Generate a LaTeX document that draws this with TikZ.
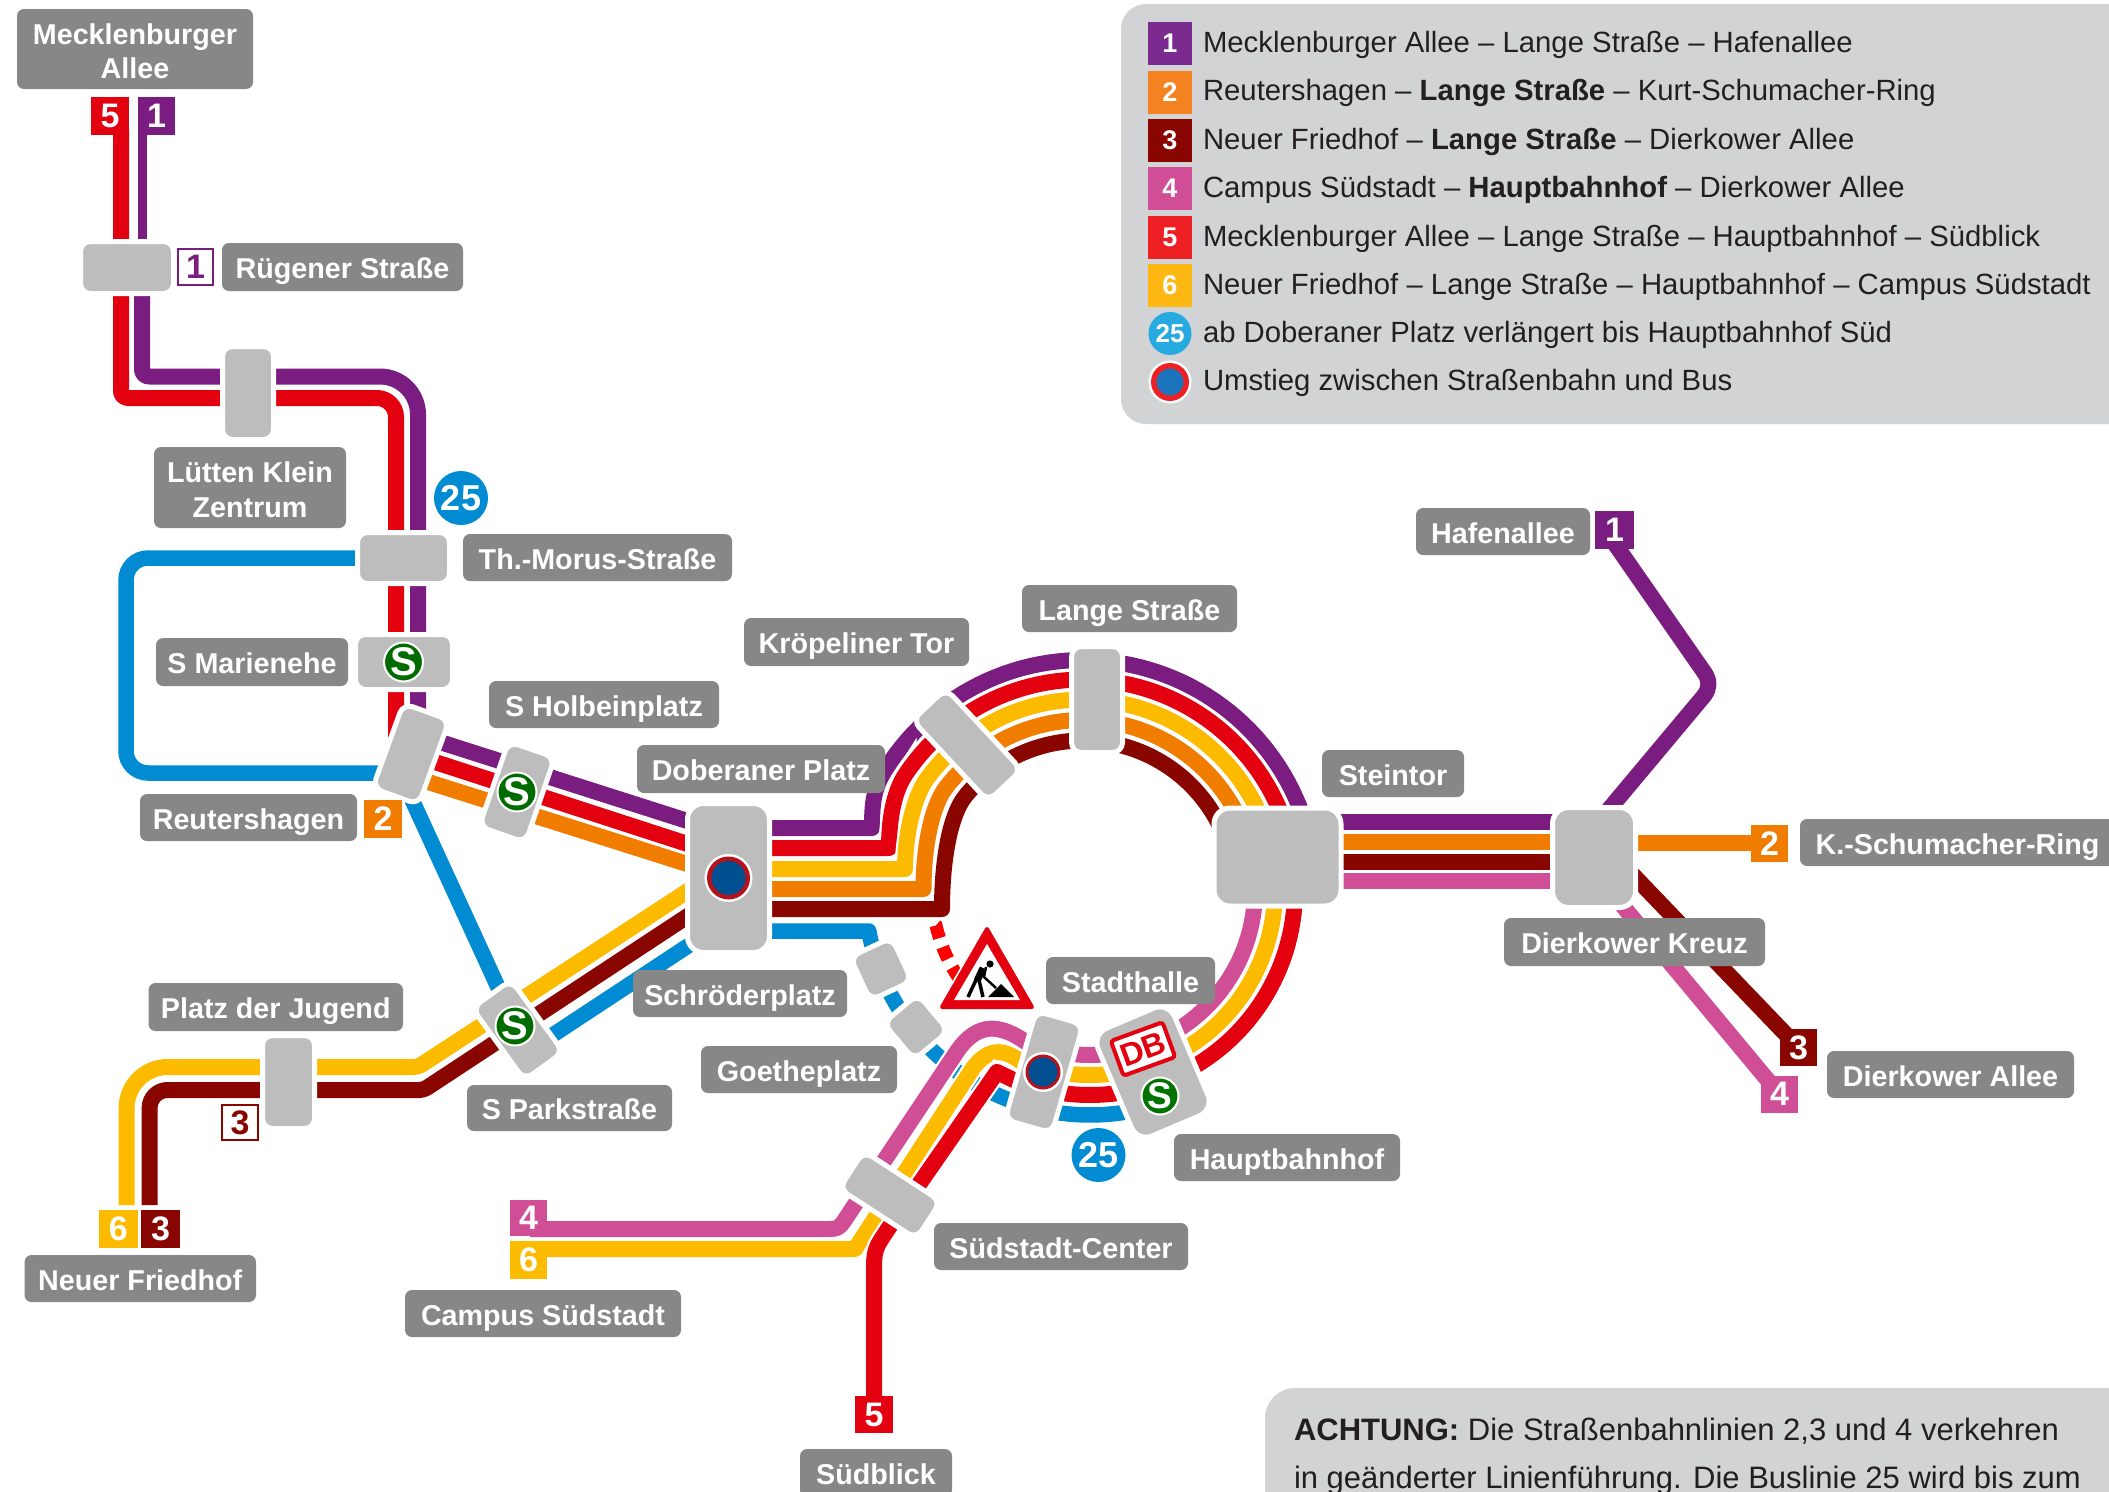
\documentclass[tikz,border=0pt]{standalone}
\usepackage{fontspec}
\setmainfont{Liberation Sans}
\pgfdeclarelayer{tracks}
\pgfsetlayers{tracks,main}
\definecolor{cPur}{HTML}{7A1C80}
\definecolor{cRed}{HTML}{E3000F}
\definecolor{cYel}{HTML}{FDBB00}
\definecolor{cOra}{HTML}{F07D00}
\definecolor{cDrk}{HTML}{880500}
\definecolor{cPnk}{HTML}{D04E96}
\definecolor{cBlu}{HTML}{008BD2}
\definecolor{cLab}{HTML}{878787}
\definecolor{cSta}{HTML}{BDBDBD}
\definecolor{cPan}{HTML}{D1D3D4}
\definecolor{cGrn}{HTML}{006C00}
\definecolor{cTxt}{HTML}{231F20}
\definecolor{kPur}{HTML}{7B2A8F}
\definecolor{kOra}{HTML}{F58220}
\definecolor{kRed}{HTML}{EE2024}
\definecolor{kYel}{HTML}{FDB813}
\definecolor{kCya}{HTML}{27AAE1}
\definecolor{kBlu}{HTML}{1C75BC}
\definecolor{dRed}{HTML}{B5121B}
\definecolor{dBlu}{HTML}{004F91}
\newcommand{\mapbox}[7]{%
  \pgfmathsetmacro\bcx{(#3+#5)/2}\pgfmathsetmacro\bcy{(#4+#6)/2}%
  \pgfmathsetmacro\bww{#5-#3}\pgfmathsetmacro\bhh{#6-#4}%
  \node[#1,minimum width=\bww pt,minimum height=\bhh pt] (#2) at (\bcx,\bcy) {#7};}
\newcommand{\stn}[7][]{%
  \pgfmathsetmacro\bww{#5+5}\pgfmathsetmacro\bhh{#6+5}%
  \node[stat,#1,rotate=#7,minimum width=\bww pt,minimum height=\bhh pt] (#2) at (#3,#4) {};}
\newcommand{\busicon}[5]{%
  \node[circle,fill=white,inner sep=0pt,minimum size=#4*2pt] (#1w) at (#2,#3) {};
  \node[circle,fill=busred,inner sep=0pt,minimum size=#4*2pt-5pt] (#1r) at (#1w.center) {};
  \node[circle,fill=busblue,inner sep=0pt,minimum size=#5*2pt] (#1b) at (#1w.center) {};}
\tikzset{
  x=1pt,y=-1pt,
  ringU/.style n args={3}{insert path={-- plot[domain=#2:#3,samples=60] ({1083+#1*cos(\x)},{893+#1*sin(\x)})}},
  ringL/.style n args={3}{insert path={-- plot[domain=#2:#3,samples=60] ({1090+#1*cos(\x)},{890+#1*sin(\x)})}},
  trk/.style={line width=16pt,line join=round,preaction={draw=white,line width=20.5pt}},
  bus/.style={line width=15.5pt,line join=round,draw=cBlu},
  lab/.style={fill=cLab,rounded corners=7pt,inner sep=0pt,outer sep=0pt,text=white,
    font=\fontsize{28.7}{34.5}\selectfont\bfseries,text height=28.5pt,text depth=5pt},
  lab2/.style={fill=cLab,rounded corners=7pt,inner sep=0pt,outer sep=0pt,text=white,
    font=\fontsize{28.7}{34.5}\selectfont\bfseries,align=center},
  stat/.style={fill=cSta,draw=white,line width=5pt,rounded corners=10pt,inner sep=0pt,outer sep=0pt},
  bigstat/.style={rounded corners=16pt},
  badge/.style={inner sep=0pt,outer sep=0pt,text=white,font=\fontsize{34}{34}\selectfont\bfseries},
  obadge/.style={inner sep=0pt,outer sep=0pt,fill=white,line width=2pt,font=\fontsize{34}{34}\selectfont\bfseries},
  slogo/.style={circle,fill=cGrn,draw=white,line width=2pt,inner sep=0pt,outer sep=0pt,minimum size=39pt,text=white,
    font=\fontsize{40}{40}\selectfont\bfseries},
  busnum/.style={circle,fill=cBlu,inner sep=0pt,outer sep=0pt,minimum size=54pt,text=white,
    font=\fontsize{36}{36}\selectfont\bfseries},
  leg/.style={anchor=base west,inner sep=0pt,outer sep=0pt,text=cTxt,font=\fontsize{29.3}{34}\selectfont},
  lbadge/.style={inner sep=0pt,outer sep=0pt,text=white,font=\fontsize{27}{27}\selectfont\bfseries},
  notetxt/.style={anchor=base west,inner sep=0pt,outer sep=0pt,text=cTxt,font=\fontsize{31}{34}\selectfont},
}
\colorlet{busred}{black}
\colorlet{busblue}{black}
\begin{document}
\begin{tikzpicture}
\useasboundingbox (0,0) rectangle (2109,1491);
\clip (0,0) rectangle (2109,1491);

% panels
\fill[cPan,rounded corners=25pt] (1121,4) rectangle (2160,424);
\fill[cPan,rounded corners=30pt] (1265,1388) rectangle (2160,1540);

% legend
\mapbox{lbadge,fill=kPur}{k1}{1148}{22}{1191.5}{65}{1}
\mapbox{lbadge,fill=kOra}{k2}{1148}{71}{1191.5}{114}{2}
\mapbox{lbadge,fill=cDrk}{k3}{1148}{119}{1191.5}{162}{3}
\mapbox{lbadge,fill=cPnk}{k4}{1148}{167}{1191.5}{210}{4}
\mapbox{lbadge,fill=kRed}{k5}{1148}{216}{1191.5}{259}{5}
\mapbox{lbadge,fill=kYel}{k6}{1148}{264}{1191.5}{307}{6}
\node[circle,fill=kCya,inner sep=0pt,minimum size=43pt,text=white,font=\fontsize{26}{26}\selectfont\bfseries] (k25) at (1170,333.5) {25};
\colorlet{busred}{kRed}\colorlet{busblue}{kBlu}
\busicon{kbus}{1170}{382}{21.5}{13.5}
\node[leg] (t1) at (1203,52) {Mecklenburger Allee -- Lange Straße -- Hafenallee};
\node[leg] (t2) at (1203,100.5) {Reutershagen -- \textbf{Lange Straße} -- Kurt-Schumacher-Ring};
\node[leg] (t3) at (1203,149) {Neuer Friedhof -- \textbf{Lange Straße} -- Dierkower Allee};
\node[leg] (t4) at (1203,197) {Campus Südstadt -- \textbf{Hauptbahnhof} -- Dierkower Allee};
\node[leg] (t5) at (1203,246) {Mecklenburger Allee -- Lange Straße -- Hauptbahnhof -- Südblick};
\node[leg] (t6) at (1203,294) {Neuer Friedhof -- Lange Straße -- Hauptbahnhof -- Campus Südstadt};
\node[leg] (t7) at (1203,342) {ab Doberaner Platz verlängert bis Hauptbahnhof Süd};
\node[leg] (t8) at (1203,390) {Umstieg zwischen Straßenbahn und Bus};

% note
\node[notetxt] (n1) at (1294,1440) {\textbf{ACHTUNG:} Die Straßenbahnlinien 2,3 und 4 verkehren};
\node[notetxt] (n2) at (1294,1488) {in geänderter Linienführung. Die Buslinie 25 wird bis zum};

% stations
\stn{rueg}{127}{267.5}{88}{47}{0}
\stn{luet}{248}{393}{46}{88}{0}
\stn{morus}{403.5}{558}{87}{46}{0}
\stn{mari}{404}{662}{92}{50}{0}
\stn{reut}{411}{754}{44}{85}{-20}
\stn{holb}{517}{792}{44}{85}{-19}
\stn[bigstat]{dob}{728.5}{878}{77}{144}{0}
\stn{krop}{967}{745}{41}{106}{43}
\stn{lange}{1097}{699.5}{46}{101}{0}
\stn[bigstat]{stein}{1277.5}{857}{122}{93}{0}
\stn[bigstat]{dier}{1594}{857.5}{78}{95}{0}
\stn{park}{517.7}{1030}{43}{84}{36}
\stn{jug}{288.5}{1082}{47}{88}{0}
\stn{sued}{890}{1195}{87}{40}{-33}
\stn{stadt}{1044}{1072}{44}{108}{-16}
\stn[bigstat]{hbf}{1153}{1072}{78}{112}{23}
\stn{goeA}{881}{969}{41}{43}{25}
\stn{goeB}{916}{1027}{40}{43}{40}

% station symbols
\node[slogo] (sMari) at (403.5,662) {S};
\node[slogo] (sHolb) at (517,792) {S};
\node[slogo] (sPark) at (515,1026) {S};
\node[slogo,fill=green!45!black,minimum size=37pt,font=\fontsize{37}{37}\selectfont\bfseries] (sHbf) at (1160,1096) {S};
\colorlet{busred}{dRed}\colorlet{busblue}{dBlu}
\busicon{bDob}{728.5}{878}{24}{17}
\busicon{bStadt}{1043}{1072}{20}{14.5}
\node[rotate=20,fill=white,draw=cRed,line width=4pt,rounded corners=3pt,inner sep=0pt,minimum width=55pt,minimum height=37pt,text=cRed,font=\fontsize{32}{32}\selectfont\bfseries] (db) at (1143,1049) {DB};

% labels
\mapbox{lab2}{lMeck}{17}{9}{253}{89}{\rule{0pt}{25pt}Mecklenburger\\Allee}
\mapbox{lab}{lRueg}{222}{243}{463}{291}{Rügener Straße}
\mapbox{lab2}{lLuet}{154}{447}{346}{528}{\rule{0pt}{25pt}Lütten Klein\\Zentrum}
\mapbox{lab}{lMorus}{463}{534}{732}{581}{Th.-Morus-Straße}
\mapbox{lab}{lMari}{156}{638}{348}{686}{S Marienehe}
\mapbox{lab}{lHolb}{489}{681}{719}{728}{S Holbeinplatz}
\mapbox{lab}{lReut}{140}{794}{357}{841}{Reutershagen}
\mapbox{lab}{lDob}{637}{745}{885}{793}{Doberaner Platz}
\mapbox{lab}{lKrop}{744}{618}{969}{666}{Kröpeliner Tor}
\mapbox{lab}{lLange}{1022}{585}{1237}{632}{Lange Straße}
\mapbox{lab}{lStein}{1322}{750}{1464}{797}{Steintor}
\mapbox{lab}{lHafen}{1416}{508}{1590}{555}{Hafenallee}
\mapbox{lab}{lKsr}{1800}{819}{2115}{866}{K.-Schumacher-Ring}
\mapbox{lab}{lDier}{1504}{918}{1765}{966}{Dierkower Kreuz}
\mapbox{lab}{lDierA}{1827}{1051}{2074}{1098}{Dierkower Allee}
\mapbox{lab}{lSchr}{633}{970}{847}{1017}{Schröderplatz}
\mapbox{lab}{lGoe}{701}{1046}{897}{1093}{Goetheplatz}
\mapbox{lab}{lStadt}{1046}{957}{1215}{1004}{Stadthalle}
\mapbox{lab}{lHbf}{1174}{1134}{1400}{1181}{Hauptbahnhof}
\mapbox{lab}{lSued}{934}{1223}{1188}{1270}{Südstadt-Center}
\mapbox{lab}{lBlick}{800}{1449}{952}{1497}{Südblick}
\mapbox{lab}{lCamp}{405}{1290}{681}{1337}{Campus Südstadt}
\mapbox{lab}{lNeu}{24.5}{1255}{256}{1302}{Neuer Friedhof}
\mapbox{lab}{lJug}{148.5}{983}{403}{1031}{Platz der Jugend}
\mapbox{lab}{lPark}{467}{1085}{672}{1131}{S Parkstraße}

% badges
\mapbox{badge,fill=cRed}{m5}{91}{97}{129}{135}{5}
\mapbox{badge,fill=cPur}{m1}{138}{97}{175}{135}{1}
\mapbox{obadge,draw=cPur,text=cPur}{r1}{178}{249}{213}{285}{1}
\mapbox{badge,fill=cOra}{re2}{364}{800}{402}{838}{2}
\mapbox{obadge,draw=cDrk,text=cDrk}{j3}{222}{1105}{258}{1140}{3}
\mapbox{badge,fill=cYel}{n6}{98.5}{1210}{138}{1247.5}{6}
\mapbox{badge,fill=cDrk}{n3}{141}{1210}{180}{1247.5}{3}
\mapbox{badge,fill=cPnk}{c4}{510}{1199.5}{547}{1236}{4}
\mapbox{badge,fill=cYel}{c6}{510}{1241}{547}{1279}{6}
\mapbox{badge,fill=cRed}{s5}{855}{1396}{893}{1433}{5}
\mapbox{badge,fill=cPur}{h1}{1595}{511}{1634}{548.5}{1}
\mapbox{badge,fill=cOra}{k2b}{1751}{824.5}{1788}{862}{2}
\mapbox{badge,fill=cDrk}{d3}{1780}{1029}{1817}{1066}{3}
\mapbox{badge,fill=cPnk}{d4}{1761}{1075.5}{1798}{1113}{4}
\node[busnum] (b25a) at (461,498) {25};
\node[busnum] (b25b) at (1098.5,1155) {25};

% construction sign
\path[fill=white,draw=white,line width=3pt,line join=round] (987,925) -- (938,1009) -- (1036,1009) -- cycle;
\path[fill=cRed,draw=cRed,line width=4pt,line join=round] (987,929) -- (942,1007) -- (1032,1007) -- cycle;
\fill[white] (987,944) -- (954,1000) -- (1020,1000) -- cycle;
\fill[black] (990,964) circle[radius=3.6];
\draw[black,line width=7pt] (983,968) -- (977,981);
\draw[black,line width=3.5pt,line join=round] (976,980) -- (968,997);
\draw[black,line width=3.5pt,line join=round] (979,980) -- (983,997);
\draw[black,line width=2.5pt,line join=round] (986,967) -- (984,977) -- (996,988);
\fill[black] (988,997) -- (1001,984) -- (1014,997) -- cycle;

\begin{pgfonlayer}{tracks}
\fill[white] (0,0) rectangle (2109,1491);
% bus line 25
\draw[bus] (morus.center) [rounded corners=22pt] -| (126,773) -- (395,773);
\coordinate (blueR) at (396,765);
\draw[bus] (blueR) -- (park.center);
\draw[bus] (530,1050) -- (700,938);
\draw[bus] (772,931) -- (868,931) [ringL={225}{169.5}{80}];
% diverted line 5 dashes
\draw[red,line width=13pt,dash pattern=on 13pt off 9.6pt] (936,925.5) [ringL={158}{167}{145}];

% line 5 and 1, north
\draw[trk,cRed] (121,130) [rounded corners=7pt] -- (121,398) [rounded corners=19pt] -- (396,398) -- (396,745);
\draw[cPur,line width=9pt] (142.5,130) -- (142.5,250);
\draw[trk,cPur] (142,250) [rounded corners=7pt] -- (142,376.5) [rounded corners=38pt] -- (418,376.5) -- (418,745);
% bundle to Doberaner
\draw[trk,cPur] (440,742) -- (700,825);
\draw[trk,cRed] (435,762) -- (700,848);
\draw[trk,cOra] (425,781) -- (700,868);
% Neuer Friedhof
\draw[trk,cYel] (126.6,1205) [rounded corners=41pt] -- (126.6,1067) [rounded corners=4pt] -- (418,1067) -- (700,883);
\draw[trk,cDrk] (149.6,1205) [rounded corners=18pt] -- (149.6,1090) [rounded corners=4pt] -- (423.5,1090) -- (700,908);
% ring, upper
\draw[trk,cPur] (740,828) -- (872,828) .. controls (872,805) and (873,789) .. (885.4,769.5) [ringU={233}{212}{345}];
\draw[trk,cRed] (740,848) -- (889,848) .. controls (889,825) and (892,794) .. (906,773.6) [ringU={213.5}{214}{345}];
\draw[trk,cYel] (740,869) -- (905,869) .. controls (905,840) and (912,800) .. (926.5,779.3) [ringU={193.5}{216}{345}];
\draw[trk,cOra] (740,889) -- (923.5,889) .. controls (923.5,850) and (931,806) .. (946.7,786.5) [ringU={173}{218}{345}];
\draw[trk,cDrk] (740,909) -- (942,909) .. controls (942,860) and (950,814) .. (966.2,795) [ringU={152.5}{220}{345}];
% ring, lower and Suedstadt
\draw[trk,cPnk] (1255,890) [ringL={165}{0}{113}] .. controls (1000,1024) and (978,1022) .. (958,1050) -- (850,1212) .. controls (839,1229) .. (826,1229) -- (530,1229);
\draw[trk,cYel] (1275,890) [ringL={185}{0}{112}] .. controls (1005,1050) and (990,1046) .. (973,1068) -- (855,1249) -- (530,1249);
\draw[trk,cRed] (1295,890) [ringL={205}{0}{111}] -- (997,1072) -- (888,1229) .. controls (874,1250) .. (874,1275) -- (s5.center);
% east bundle
\draw[trk,cPur] (1320,822) -- (1580,822);
\draw[trk,cOra] (1320,842) -- (1580,842);
\draw[trk,cDrk] (1320,862) -- (1580,862);
\draw[trk,cPnk] (1320,881) -- (1580,881);
% east ends
\coordinate (hafenS) at (1606,531);
\draw[trk,cPur] (hafenS) [rounded corners=13pt] -- (1713,685) -- (1600,820);
\draw[trk,cOra] (dier.center |- k2b.center) -- (k2b.center);
\draw[trk,cDrk] (1625,866.6) -- (d3.center);
\draw[trk,cPnk] (1605,884.6) -- (d4.center);
\end{pgfonlayer}
\end{tikzpicture}
\end{document}
